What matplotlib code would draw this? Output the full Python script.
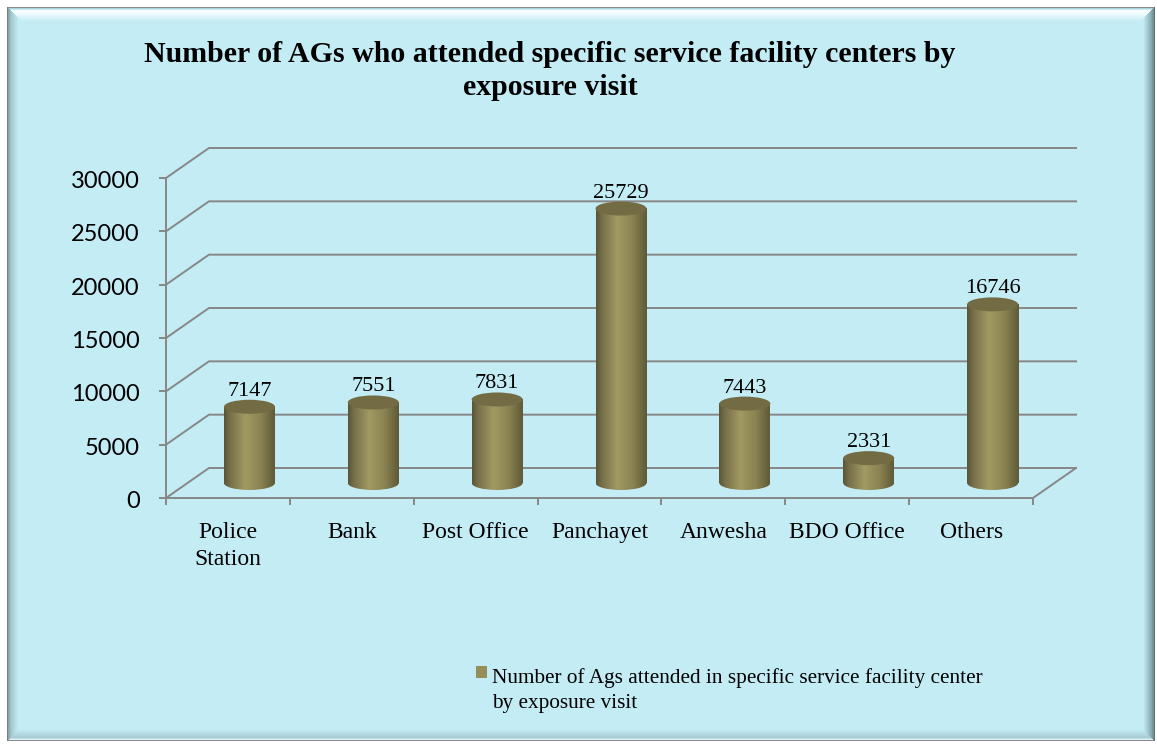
import numpy as np
import matplotlib
matplotlib.use('Agg')
import matplotlib.pyplot as plt
from matplotlib.patches import Ellipse, Rectangle, Polygon
from matplotlib.colors import LinearSegmentedColormap, to_rgb

# ---------------- data ----------------
categories = ['Police\nStation', 'Bank', 'Post Office', 'Panchayet', 'Anwesha', 'BDO Office', 'Others']
values = [7147, 7551, 7831, 25729, 7443, 2331, 16746]
y_ticks = [0, 5000, 10000, 15000, 20000, 25000, 30000]
title_lines = ['Number of AGs who attended specific service facility centers by', 'exposure visit']
legend_lines = ['Number of Ags attended in specific service facility center', 'by exposure visit']

# ---------------- style ----------------
W, H = 1157, 744
BG = '#C3ECF5'
GRID = '#878787'
SERIF = ['Liberation Serif', 'DejaVu Serif']
SANS = ['Lato', 'DejaVu Sans']

fig = plt.figure(figsize=(W / 100, H / 100), dpi=100)
fig.patch.set_facecolor('white')

# pixel-space decoration axes
bg = fig.add_axes([0, 0, 1, 1])
bg.set_xlim(0, W)
bg.set_ylim(H, 0)
bg.axis('off')

x0, y0, x1, y1 = 7, 7, 1155, 741
bg.add_patch(Rectangle((x0, y0), x1 - x0, y1 - y0, facecolor=BG, edgecolor='none'))


def mix(c1, c2, t):
    a = np.array(to_rgb(c1))
    b = np.array(to_rgb(c2))
    return tuple(a * (1 - t) + b * t)


def profile(stops, k):
    for (ka, ca), (kb, cb) in zip(stops[:-1], stops[1:]):
        if ka <= k <= kb:
            return mix(ca, cb, (k - ka) / max(kb - ka, 1e-9))
    return to_rgb(stops[-1][1])


top_st = [(0, '#8c8c8c'), (1, '#a9d4dd'), (3, '#f4fdff'), (6, '#f0fbfe'), (14, BG)]
left_st = [(0, '#7c7c7c'), (1, '#86a6ae'), (4, '#a6c9d1'), (11, BG)]
right_st = [(0, '#6d6d6d'), (1, '#6f8f97'), (4, '#8fb1b9'), (11, BG)]
bot_st = [(0, '#8a8a8a'), (1, '#d8f3f8'), (3, '#a9cbd3'), (11, BG)]
N = 15
for k in range(N):
    bg.add_patch(Polygon([(x0 + k, y0 + k), (x1 - k, y0 + k), (x1 - k - 1, y0 + k + 1), (x0 + k + 1, y0 + k + 1)],
                         closed=True, facecolor=profile(top_st, k), edgecolor='none', antialiased=False))
    bg.add_patch(Polygon([(x0 + k, y1 - k), (x1 - k, y1 - k), (x1 - k - 1, y1 - k - 1), (x0 + k + 1, y1 - k - 1)],
                         closed=True, facecolor=profile(bot_st, k), edgecolor='none', antialiased=False))
    bg.add_patch(Polygon([(x0 + k, y0 + k), (x0 + k + 1, y0 + k + 1), (x0 + k + 1, y1 - k - 1), (x0 + k, y1 - k)],
                         closed=True, facecolor=profile(left_st, k), edgecolor='none', antialiased=False))
    bg.add_patch(Polygon([(x1 - k, y0 + k), (x1 - k - 1, y0 + k + 1), (x1 - k - 1, y1 - k - 1), (x1 - k, y1 - k)],
                         closed=True, facecolor=profile(right_st, k), edgecolor='none', antialiased=False))

# title
bg.text(550, 62, title_lines[0], ha='center', va='baseline', fontsize=21.5, fontweight='bold', family=SERIF)
bg.text(550, 95, title_lines[1], ha='center', va='baseline', fontsize=21.5, fontweight='bold', family=SERIF)

# legend
SERIES_COLOR = '#968d59'
bg.add_patch(Rectangle((476, 666), 11, 12, facecolor=SERIES_COLOR, edgecolor='none'))
bg.text(492, 683, legend_lines[0], ha='left', va='baseline', fontsize=15.3, family=SERIF)
bg.text(492, 708, legend_lines[1], ha='left', va='baseline', fontsize=15.3, family=SERIF)

# ---------------- 3D-look plot axes ----------------
pxcat = (1033 - 166) / 7.0
pxval = (498 - 178) / 30000.0
DX = 43 / pxcat
DY = 30 / pxval
L = 166
R = L + (7 + DX) * pxcat
B = 498
T = B - (30000 + DY) * pxval
ax = fig.add_axes([L / W, (H - B) / H, (R - L) / W, (B - T) / H])
ax.patch.set_alpha(0)
ax.axis('off')

glw = 1.4
for v in y_ticks:
    ax.plot([0, DX, 7 + DX], [v, v + DY, v + DY], color=GRID, lw=glw, clip_on=False, zorder=1,
            solid_joinstyle='miter')
ax.plot([0, 7, 7 + DX], [0, 0, DY], color=GRID, lw=glw, clip_on=False, zorder=1, solid_joinstyle='miter')
ax.plot([0, 0], [0, 30000], color=GRID, lw=glw, clip_on=False, zorder=1)
for v in y_ticks:
    ax.plot([-6 / pxcat, 0], [v, v], color=GRID, lw=glw, clip_on=False, zorder=1)
    ax.text(-26 / pxcat, v - 10 / pxval, f'{v}', ha='right', va='baseline', fontsize=17, family=SANS)
for i in range(len(categories) + 1):
    ax.plot([i, i], [0, -6 / pxval], color=GRID, lw=glw, clip_on=False, zorder=1)
for i, c in enumerate(categories):
    lines = c.split('\n')
    for j, ln in enumerate(lines):
        ax.text(i + 0.5, -(40 + 27 * j) / pxval, ln, ha='center', va='baseline', fontsize=17, family=SERIF)

# cylinders
w = 51 / pxcat
eh = 14 / pxval
cmap = LinearSegmentedColormap.from_list('cyl', [(0, '#5a5535'), (0.12, '#77704a'), (0.42, '#a29a63'),
                                                  (0.72, '#8a8352'), (1, '#5f5a38')])
grad = np.linspace(0, 1, 128)[None, :]
for i, v in enumerate(values):
    cx = i + 0.5 + DX / 2
    base = DY / 2
    top = base + v
    ax.imshow(grad, cmap=cmap, extent=[cx - w / 2, cx + w / 2, base, top], aspect='auto',
              interpolation='bilinear', zorder=3)
    e = Ellipse((cx, base), w, eh, facecolor='none', edgecolor='none')
    ax.add_patch(e)
    im2 = ax.imshow(grad, cmap=cmap, extent=[cx - w / 2, cx + w / 2, base - eh / 2, base], aspect='auto',
                    interpolation='bilinear', zorder=3)
    im2.set_clip_path(e)
    ax.add_patch(Ellipse((cx, top), w, eh, facecolor='#726b44', edgecolor='none', zorder=4))
    ax.text(cx, top + 11 / pxval, f'{v}', ha='center', va='baseline', fontsize=16, family=SERIF, zorder=5)

ax.set_xlim(0, 7 + DX)
ax.set_ylim(0, 30000 + DY)

fig.savefig('out.png', dpi=100, facecolor='white')
